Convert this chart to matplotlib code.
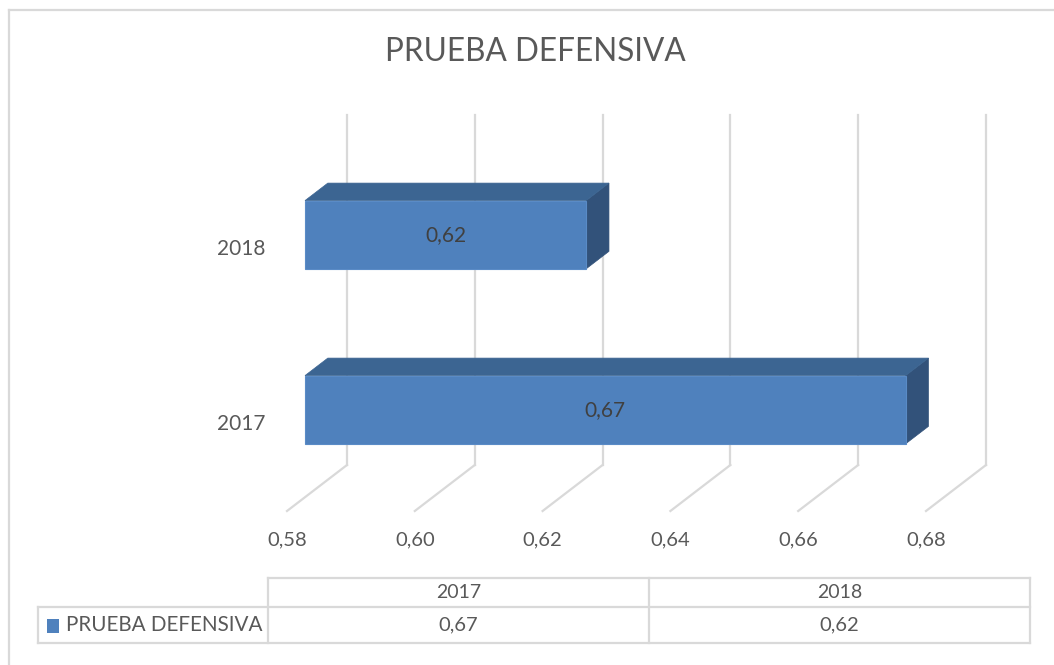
import matplotlib
matplotlib.use("Agg")
import matplotlib.pyplot as plt
from matplotlib.patches import Polygon

# data
years = ['2017', '2018']
values = [0.674, 0.624]
series_name = 'PRUEBA DEFENSIVA'
ticks = [0.58, 0.60, 0.62, 0.64, 0.66, 0.68]
title = 'PRUEBA DEFENSIVA'

plt.rcParams['font.family'] = ['Lato', 'DejaVu Sans']
TXT = '#595959'
GRID = '#d9d9d9'
C_FRONT = '#4f81bd'
C_TOP = '#3c6592'
C_SIDE = '#32527a'

W, H = 1054, 665
fig = plt.figure(figsize=(W / 100, H / 100), dpi=100)

# chart axes: x in value units, y in category units (oblique 3d look)
ax = fig.add_axes([0, 0, 1, 1])
px_val = 6390.0
x0 = 0.58 - 347 / px_val
ax.set_xlim(x0, x0 + W / px_val)
px_cat = 175.0
y_top = 1.5 + 115 / px_cat
ax.set_ylim(y_top - H / px_cat, y_top)
ax.axis('off')

DX = -60 / px_val   # shift from back wall to front edge of floor
DY = -46 / px_cat
xmin = ticks[0]

def sh(x, y, t):
    return (x + DX * t, y + DY * t)

# back wall + floor gridlines
for v in ticks:
    ax.plot([v, v], [-0.5, 1.5], color=GRID, lw=1.6, zorder=1)
    ax.plot([v, v + DX], [-0.5, -0.5 + DY], color=GRID, lw=1.6, zorder=1)
    ax.text(v + DX, -0.5 + DY - 29 / px_cat, ('%.2f' % v).replace('.', ','),
            ha='center', va='center', fontsize=14.5, color=TXT)

# bars
hh = 0.195
tf, tb = 0.70, 0.32
for i, v in enumerate(values):
    fl, fb = sh(xmin, i - hh, tf)
    fr, ft = sh(v, i + hh, tf)
    bl, bb = sh(xmin, i - hh, tb)
    br, bt = sh(v, i + hh, tb)
    front = Polygon([(fl, fb), (fr, fb), (fr, ft), (fl, ft)], closed=True,
                    fc=C_FRONT, ec='#5a8bc6', lw=0.8, zorder=3)
    top = Polygon([(fl, ft), (fr, ft), (br, bt), (bl, bt)], closed=True,
                  fc=C_TOP, ec=C_TOP, lw=0.5, zorder=2)
    side = Polygon([(fr, ft), (br, bt), (br, bb), (fr, fb)], closed=True,
                   fc=C_SIDE, ec=C_SIDE, lw=0.5, zorder=2)
    for p in (side, top, front):
        ax.add_patch(p)
    ax.text((fl + fr) / 2, (fb + ft) / 2, ('%.2f' % v).replace('.', ','),
            ha='center', va='center', fontsize=15, color='#404040', zorder=4)
    ax.text(xmin + DX - 22 / px_val, i + DY, years[i], ha='right', va='center',
            fontsize=15, color=TXT)

# overlay in pixel units for title, border and data table
pa = fig.add_axes([0, 0, 1, 1], facecolor='none')
pa.set_xlim(0, W)
pa.set_ylim(H, 0)
pa.axis('off')

pa.plot([9, W + 5], [10, 10], color=GRID, lw=1.6)
pa.plot([9, 9], [10, H + 5], color=GRID, lw=1.6)

pa.text(535, 52, title, ha='center', va='center', fontsize=22.7, color=TXT)

# data table
tl, tr = 268, 1030
lab_l = 38
y1, y2, y3 = 578, 607, 643
colw = (tr - tl) / len(years)
pa.plot([tl, tr], [y1, y1], color=GRID, lw=1.6)
pa.plot([lab_l, tr], [y2, y2], color=GRID, lw=1.6)
pa.plot([lab_l, tr], [y3, y3], color=GRID, lw=1.6)
pa.plot([lab_l, lab_l], [y2, y3], color=GRID, lw=1.6)
for k in range(len(years) + 1):
    pa.plot([tl + k * colw] * 2, [y1, y3], color=GRID, lw=1.6)
for k, (yr, v) in enumerate(zip(years, values)):
    cx = tl + (k + 0.5) * colw
    pa.text(cx, (y1 + y2) / 2, yr, ha='center', va='center', fontsize=14, color=TXT)
    pa.text(cx, (y2 + y3) / 2, ('%.2f' % v).replace('.', ','), ha='center',
            va='center', fontsize=14.5, color=TXT)
pa.add_patch(plt.Rectangle((47, 619), 12, 14, fc=C_FRONT, ec='none'))
pa.text(66, (y2 + y3) / 2, series_name, ha='left', va='center', fontsize=14.9,
        color=TXT)

fig.savefig('out.png', dpi=100)
